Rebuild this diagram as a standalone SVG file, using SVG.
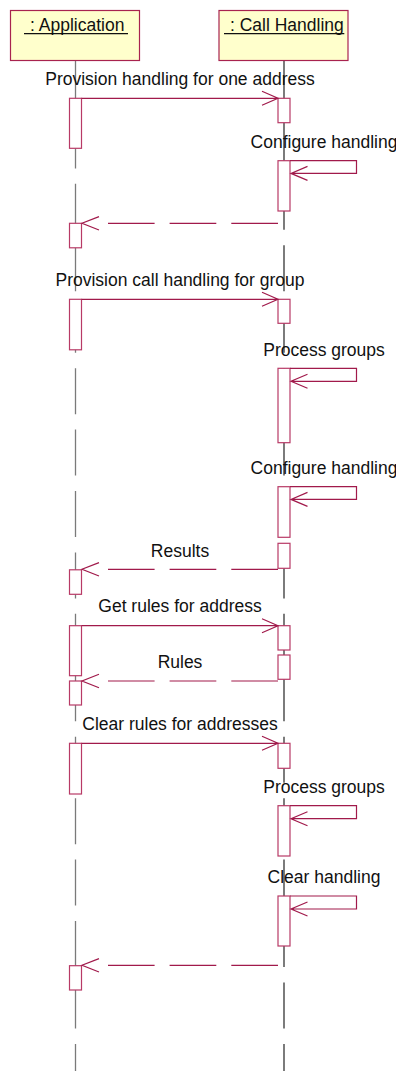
<svg xmlns="http://www.w3.org/2000/svg" width="396" height="1071" viewBox="0 0 396 1071">
<style>
.obj{fill:#FFFFCC;stroke:#A8234F;stroke-width:1.2}
.t{font-family:"Liberation Sans",Arial,sans-serif;font-size:17.5px;fill:#111}
.tm{font-family:"Liberation Sans",Arial,sans-serif;font-size:17.5px;fill:#111;text-anchor:middle}
.ul{stroke:#111;stroke-width:1.2}
.lifeA{stroke:#7a7a7a;stroke-width:1.3;stroke-dasharray:46 15.43;fill:none}
.lifeB{stroke:#111;stroke-width:1.1;stroke-dasharray:46 15.43;fill:none}
.act{fill:#fff;stroke:#B83A66;stroke-width:1.2}
.msg{fill:none;stroke:#A11A4B;stroke-width:1.2}
.ret{fill:none;stroke:#A11A4B;stroke-width:1.2;stroke-dasharray:46.7 15}
</style>
<rect width="396" height="1071" fill="#fff"/>
<g id="application">
<line class="lifeA" x1="75.5" y1="61" x2="75.5" y2="1071"/>
<rect class="obj" x="10.5" y="10.5" width="129" height="50"/>
<text class="t" x="30" y="31">: Application</text>
<line class="ul" x1="24" y1="33.6" x2="128" y2="33.6"/>
<rect class="act" x="69.5" y="98.3" width="12" height="50"/>
<rect class="act" x="69.5" y="223.3" width="12" height="24.5"/>
<rect class="act" x="69.5" y="299.3" width="12" height="50.5"/>
<rect class="act" x="69.5" y="569.8" width="12" height="24.5"/>
<rect class="act" x="69.5" y="625.7" width="12" height="50"/>
<rect class="act" x="69.5" y="681" width="12" height="24"/>
<rect class="act" x="69.5" y="743.3" width="12" height="50.7"/>
<rect class="act" x="69.5" y="965.7" width="12" height="24.3"/>
</g>
<g id="call-handling">
<line class="lifeB" x1="284" y1="61" x2="284" y2="1071"/>
<rect class="obj" x="219" y="10.5" width="129" height="50"/>
<text class="t" x="230" y="31">: Call Handling</text>
<line class="ul" x1="224" y1="33.6" x2="344.3" y2="33.6"/>
<rect class="act" x="278" y="98.3" width="12" height="24.4"/>
<rect class="act" x="278" y="160.7" width="12" height="50.3"/>
<rect class="act" x="278" y="299.3" width="12" height="24"/>
<rect class="act" x="278" y="368.3" width="12" height="74.4"/>
<rect class="act" x="278" y="486.7" width="12" height="50.6"/>
<rect class="act" x="278" y="543.3" width="12" height="25"/>
<rect class="act" x="278" y="625.7" width="12" height="24.3"/>
<rect class="act" x="278" y="655" width="12" height="24.3"/>
<rect class="act" x="278" y="743.3" width="12" height="25"/>
<rect class="act" x="278" y="805.7" width="12" height="50.3"/>
<rect class="act" x="278" y="896" width="12" height="50"/>
</g>
<g id="connectors">
<!-- forward calls -->
<path class="msg" d="M81.5 98.3H278M262 91.3L278 98.3L262 105.3"/>
<text class="tm" x="180" y="85.3">Provision handling for one address</text>
<path class="msg" d="M81.5 299.3H278M262 292.3L278 299.3L262 306.3"/>
<text class="tm" x="180" y="286">Provision call handling for group</text>
<path class="msg" d="M81.5 625.7H278M262 618.7L278 625.7L262 632.7"/>
<text class="tm" x="180" y="612">Get rules for address</text>
<path class="msg" d="M81.5 743.3H278M262 736.3L278 743.3L262 750.3"/>
<text class="tm" x="180" y="729.6">Clear rules for addresses</text>
<!-- self calls -->
<path class="msg" d="M290 160.7H356.5V173.4H291M307.5 166.4L291 173.4L307.5 180.4"/>
<text class="tm" x="324" y="147.7">Configure handling</text>
<path class="msg" d="M290 368.3H356.5V381.3H291M307.5 374.3L291 381.3L307.5 388.3"/>
<text class="tm" x="324" y="355.5">Process groups</text>
<path class="msg" d="M290 486.7H356.5V499.4H291M307.5 492.4L291 499.4L307.5 506.4"/>
<text class="tm" x="324" y="473.5">Configure handling</text>
<path class="msg" d="M290 805.7H356.5V818.7H291M307.5 811.7L291 818.7L307.5 825.7"/>
<text class="tm" x="324" y="792.7">Process groups</text>
<path class="msg" d="M290 896H356.5V909H291M307.5 902L291 909L307.5 916"/>
<text class="tm" x="324" y="883.3">Clear handling</text>
<!-- returns -->
<path class="ret" d="M278 223.3H108"/>
<path class="msg" d="M99 216.6L82 223.3L99 230"/>
<path class="ret" d="M278 569.3H108"/>
<path class="msg" d="M99 562.6L82 569.3L99 576"/>
<text class="tm" x="180" y="556.7">Results</text>
<path class="ret" d="M278 681H108"/>
<path class="msg" d="M99 674.3L82 681L99 687.7"/>
<text class="tm" x="180" y="667.7">Rules</text>
<path class="ret" d="M278 965.3H108"/>
<path class="msg" d="M99 958.6L82 965.3L99 972"/>
</g>
</svg>
